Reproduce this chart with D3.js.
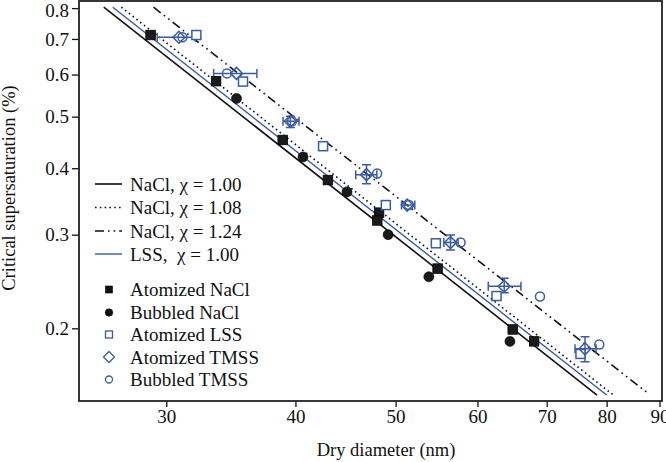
<!DOCTYPE html>
<html lang="en">
<head>
  <meta charset="UTF-8">
  <title>Critical supersaturation</title>
  <style>
    body { margin: 0; background: #fff; }
    svg text { font-family: "Liberation Serif", "Times New Roman", serif; fill: #111; }
  </style>
</head>
<body>

<svg id="chart" width="666" height="462"></svg>

<script src="https://d3js.org/d3.v7.min.js"></script>
<script>
// ---- data ----
var xTicks = [30, 40, 50, 60, 70, 80, 90];
var yTicks = [0.2, 0.3, 0.4, 0.5, 0.6, 0.7, 0.8];

// theory lines (end points, log-log straight)
var lineNames = ["NaCl, \u03c7 = 1.00", "NaCl, \u03c7 = 1.08", "NaCl, \u03c7 = 1.24", "LSS,\u00a0 \u03c7 = 1.00"];
var lineD = [[26.1, 78.3], [27.14, 81.5], [29.16, 87.6], [26.63, 80.0]];
var lineS = [[0.803, 0.1498], [0.803, 0.149], [0.803, 0.1513], [0.803, 0.1498]];

// Atomized NaCl
var atomNaclD = [28.97, 33.52, 38.88, 43.0, 48.19, 48.0, 54.9, 64.9, 68.07];
var atomNaclS = [0.712, 0.583, 0.452, 0.380, 0.330, 0.319, 0.259, 0.199, 0.189];

// Bubbled NaCl
var bubNaclD = [35.08, 40.68, 44.87, 49.17, 53.84, 64.5];
var bubNaclS = [0.541, 0.420, 0.361, 0.300, 0.250, 0.189];

// Atomized LSS
var atomLssD = [32.08, 35.59, 42.54, 48.92, 54.69, 62.6, 75.47];
var atomLssS = [0.712, 0.582, 0.440, 0.341, 0.289, 0.230, 0.179];

// Atomized TMSS (with error bars)
var atomTmssD = [30.86, 35.08, 39.55, 46.86, 51.3, 56.5, 63.68, 76.24];
var atomTmssS = [0.705, 0.603, 0.490, 0.389, 0.341, 0.290, 0.240, 0.183];
var atomTmssXlo = [29.4, 33.34, 38.91, 45.75, 50.66, 55.67, 61.46, 74.56];
var atomTmssXhi = [32.0, 36.71, 40.32, 47.95, 52.18, 57.47, 66.1, 78.14];
var atomTmssYlo = [null, null, 0.477, 0.374, null, 0.2807, 0.2333, 0.1731];
var atomTmssYhi = [null, null, 0.501, 0.406, null, 0.2995, 0.2483, 0.1929];

// Bubbled TMSS
var bubTmssD = [31.1, 34.34, 39.7, 47.98, 51.5, 57.78, 68.96, 78.7];
var bubTmssS = [0.705, 0.603, 0.490, 0.391, 0.341, 0.290, 0.2295, 0.1865];

var blue = "#3a5ba8";
var black = "#111";

var svg = d3.select("#chart");
var padL = 79, padR = 662, padT = 1, padB = 401;

var x = d3.scaleLog().domain([24.7, 90.5]).range([padL, padR]);
var y = d3.scaleLog().domain([0.146, 0.825]).range([padB, padT]);

// axes
var xAxis = svg.append("g")
  .attr("transform", "translate(0," + padB + ")")
  .call(d3.axisBottom(x).tickValues(xTicks).tickFormat(d3.format("d")).tickSizeOuter(0).tickSize(6).tickPadding(3));
var yAxis = svg.append("g")
  .attr("transform", "translate(" + padL + ",0)")
  .call(d3.axisLeft(y).tickValues(yTicks).tickFormat(d3.format(".1f")).tickSizeOuter(0).tickSize(7).tickPadding(3));

[xAxis, yAxis].forEach(function(g) {
  g.select(".domain").remove();
  g.selectAll("line").attr("stroke", black).attr("stroke-width", 1.3);
  g.selectAll("text").attr("font-size", 19).style("font-family", '"Liberation Serif", serif').attr("fill", "#111");
});
// keep the top label inside the picture
yAxis.selectAll(".tick").filter(function(d) { return d === 0.8; })
  .select("text").attr("dy", "0.42em");

// frame
svg.append("rect")
  .attr("x", padL).attr("y", padT)
  .attr("width", padR - padL).attr("height", padB - padT)
  .attr("fill", "none").attr("stroke", "#222").attr("stroke-width", 1.8);

// axis titles
svg.append("text")
  .attr("x", 386).attr("y", 456)
  .attr("text-anchor", "middle").attr("font-size", 18.5)
  .text("Dry diameter (nm)");
svg.append("text")
  .attr("transform", "translate(15,188) rotate(-90)")
  .attr("text-anchor", "middle").attr("font-size", 18.5)
  .text("Critical supersaturation (%)");

// theory lines
var dashes = [null, "1.6,3.2", "9,4,1.6,4,1.6,4", null];
var lineColors = [black, black, black, blue];
var lineWidths = [1.6, 1.6, 1.6, 1.4];

svg.append("clipPath").attr("id", "clip")
  .append("rect").attr("x", padL).attr("y", padT).attr("width", padR - padL).attr("height", padB - padT);

var plot = svg.append("g").attr("clip-path", "url(#clip)");

var lineGen = d3.line().x(function(p) { return x(p[0]); }).y(function(p) { return y(p[1]); });

lineD.forEach(function(ds, i) {
  var pts = ds.map(function(d, j) { return [d, lineS[i][j]]; });
  plot.append("path")
    .attr("d", lineGen(pts))
    .attr("fill", "none")
    .attr("stroke", lineColors[i])
    .attr("stroke-width", lineWidths[i])
    .attr("stroke-dasharray", dashes[i]);
});

// markers
function drawSquare(g, cx, cy, size, fill, stroke, sw) {
  g.append("rect")
    .attr("x", cx - size / 2).attr("y", cy - size / 2)
    .attr("width", size).attr("height", size)
    .attr("fill", fill).attr("stroke", stroke).attr("stroke-width", sw);
}
function drawCircle(g, cx, cy, r, fill, stroke, sw) {
  g.append("circle")
    .attr("cx", cx).attr("cy", cy).attr("r", r)
    .attr("fill", fill).attr("stroke", stroke).attr("stroke-width", sw);
}
function drawDiamond(g, cx, cy, h, stroke, sw) {
  g.append("path")
    .attr("d", "M" + cx + "," + (cy - h) + "L" + (cx + h) + "," + cy + "L" + cx + "," + (cy + h) + "L" + (cx - h) + "," + cy + "Z")
    .attr("fill", "none").attr("stroke", stroke).attr("stroke-width", sw);
}

// error bars for atomized TMSS
var cap = 4.5;
atomTmssD.forEach(function(d, i) {
  var cx = x(d), cy = y(atomTmssS[i]);
  var x0 = x(atomTmssXlo[i]), x1 = x(atomTmssXhi[i]);
  var path = "M" + x0 + "," + cy + "H" + x1 +
    "M" + x0 + "," + (cy - cap) + "V" + (cy + cap) +
    "M" + x1 + "," + (cy - cap) + "V" + (cy + cap);
  if (atomTmssYlo[i] != null) {
    var y0 = y(atomTmssYlo[i]), y1 = y(atomTmssYhi[i]);
    path += "M" + cx + "," + y0 + "V" + y1 +
      "M" + (cx - cap) + "," + y0 + "H" + (cx + cap) +
      "M" + (cx - cap) + "," + y1 + "H" + (cx + cap);
  }
  plot.append("path").attr("d", path).attr("fill", "none").attr("stroke", blue).attr("stroke-width", 1.5);
});

atomNaclD.forEach(function(d, i) {
  drawSquare(plot, x(d), y(atomNaclS[i]), 9.5, "#1a1a1a", "#000", 0.8);
});
bubNaclD.forEach(function(d, i) {
  drawCircle(plot, x(d), y(bubNaclS[i]), 5, "#1a1a1a", "#000", 0.6);
});
atomLssD.forEach(function(d, i) {
  drawSquare(plot, x(d), y(atomLssS[i]), 9, "#fff", blue, 1.5);
});
atomTmssD.forEach(function(d, i) {
  drawDiamond(plot, x(d), y(atomTmssS[i]), 6, blue, 1.5);
});
bubTmssD.forEach(function(d, i) {
  drawCircle(plot, x(d), y(bubTmssS[i]), 4.5, "none", blue, 1.5);
});

// legend
var legend = svg.append("g");
var lineRows = [184, 207.5, 231, 254];
lineNames.forEach(function(name, i) {
  legend.append("line")
    .attr("x1", 95).attr("x2", 122)
    .attr("y1", lineRows[i]).attr("y2", lineRows[i])
    .attr("stroke", lineColors[i]).attr("stroke-width", lineWidths[i])
    .attr("stroke-dasharray", dashes[i]);
  legend.append("text")
    .attr("x", 130).attr("y", lineRows[i]).attr("dy", "0.35em")
    .attr("font-size", 19)
    .style("white-space", "pre")
    .text(name);
});

var markNames = ["Atomized NaCl", "Bubbled NaCl", "Atomized LSS", "Atomized TMSS", "Bubbled TMSS"];
var markRows = [289.5, 312.5, 334.5, 357, 379.5];
var mx = 109;
drawSquare(legend, mx, markRows[0], 7, "#111", "#000", 0.6);
drawCircle(legend, mx, markRows[1], 3.8, "#111", "#000", 0.5);
drawSquare(legend, mx, markRows[2], 7, "#fff", blue, 1.3);
drawDiamond(legend, mx, markRows[3], 5.5, blue, 1.3);
drawCircle(legend, mx, markRows[4], 3.5, "none", blue, 1.3);
markNames.forEach(function(name, i) {
  legend.append("text")
    .attr("x", 130).attr("y", markRows[i]).attr("dy", "0.35em")
    .attr("font-size", 19)
    .text(name);
});
</script>

</body>
</html>
